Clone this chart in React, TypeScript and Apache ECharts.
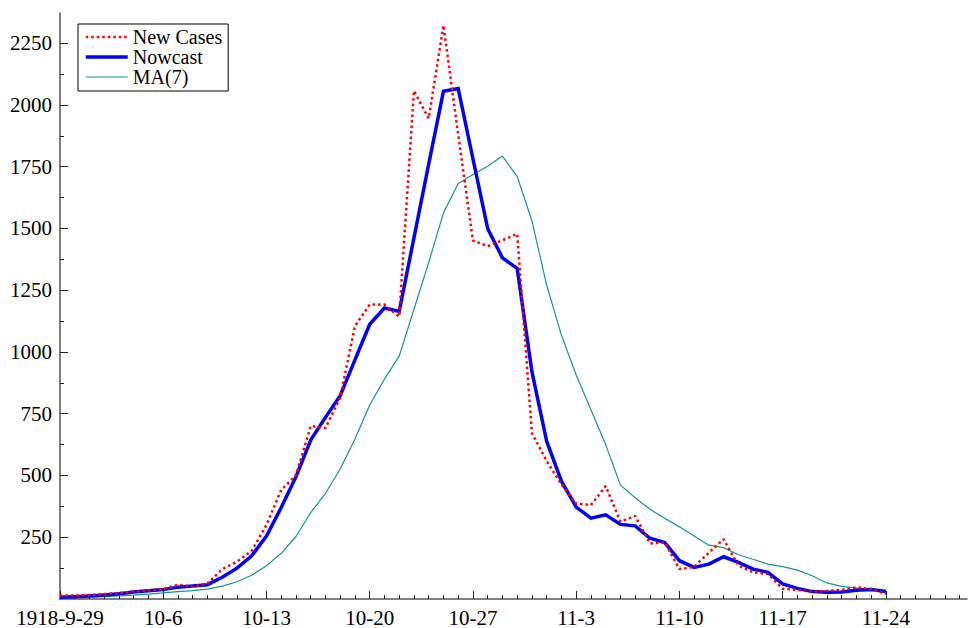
import React, { useEffect, useRef } from "react";
import * as echarts from "echarts";

const xTickDays = [0, 7, 14, 21, 28, 35, 42, 49, 56];
const xTickLabels = ["1918-9-29", "10-6", "10-13", "10-20", "10-27", "11-3", "11-10", "11-17", "11-24"];
const xMinorDays = Array.from({ length: 62 }, (_, i) => i).filter((d) => d % 7 !== 0);
const yTickValues = [250, 500, 750, 1000, 1250, 1500, 1750, 2000, 2250];
const yMinorValues = [125, 375, 625, 875, 1125, 1375, 1625, 1875, 2125];

const newCases = [
  14, 14, 16, 20, 24, 31, 35, 40, 58, 50, 63, 121, 151, 195, 300, 442, 500, 700, 692, 815,
  1105, 1192, 1192, 1143, 2057, 1945, 2322, 1880, 1451, 1428, 1452, 1478, 672, 558, 464, 386,
  380, 457, 313, 336, 225, 229, 121, 130, 188, 242, 135, 108, 101, 41, 37, 30, 33, 37, 47, 41, 20,
];
const nowcast = [
  7, 9, 12, 16, 21, 28, 33, 38, 48, 53, 58, 88, 125, 175, 255, 370, 495, 643, 735, 823,
  968, 1112, 1178, 1164, 1462, 1760, 2055, 2066, 1782, 1499, 1381, 1338, 920, 638, 477, 372,
  327, 341, 302, 296, 246, 229, 155, 128, 141, 171, 148, 121, 108, 61, 43, 30, 27, 28, 35, 38, 30,
];
const ma7 = [
  5, 6, 8, 10, 13, 16, 20, 25, 30, 34, 40, 52, 70, 96, 135, 185, 253, 350, 428, 526,
  648, 785, 890, 983, 1173, 1362, 1563, 1682, 1718, 1752, 1793, 1710, 1531, 1270, 1068, 907,
  766, 625, 461, 410, 363, 327, 292, 255, 218, 208, 179, 161, 141, 131, 117, 94, 65, 51, 44, 41, 34,
];

const FONT = "'Liberation Serif', 'Times New Roman', serif";
const AXIS_COLOR = "#555555";

export default function App() {
  const ref = useRef<HTMLDivElement>(null);
  useEffect(() => {
    const chart = echarts.init(ref.current!, null, { renderer: "svg" });
    const toPairs = (arr: number[]) => arr.map((v, i) => [i, v]);
    chart.setOption({
      animation: false,
      backgroundColor: "#ffffff",
      grid: { left: 60, right: 1, top: 13, bottom: 27 },
      legend: {
        orient: "vertical",
        left: 78,
        top: 24,
        itemWidth: 42,
        itemHeight: 14,
        itemGap: 0,
        padding: [3, 6, 4, 6],
        borderColor: "#000000",
        borderWidth: 1,
        backgroundColor: "#ffffff",
        textStyle: { fontFamily: FONT, fontSize: 20, color: "#000000", lineHeight: 20 },
        itemStyle: { opacity: 0 },
        lineStyle: { width: "inherit", type: "inherit", opacity: 1 },
        data: ["New Cases", "Nowcast", "MA(7)"],
      },
      xAxis: [
        {
          type: "value",
          min: 0,
          max: 61.5,
          axisLine: { show: true, onZero: false, lineStyle: { color: AXIS_COLOR, width: 1.5 } },
          axisTick: { show: true, inside: true, length: 8, customValues: xTickDays, lineStyle: { color: "#222", width: 1 } },
          axisLabel: {
            customValues: xTickDays,
            fontFamily: FONT,
            fontSize: 21,
            color: "#000",
            margin: 8,
            formatter: (v: number) => {
              const i = xTickDays.indexOf(Math.round(v));
              return i >= 0 ? xTickLabels[i] : "";
            },
          },
          splitLine: { show: false },
        },
        {
          type: "value",
          min: 0,
          max: 61.5,
          position: "bottom",
          axisLine: { show: false, onZero: false },
          axisTick: { show: true, inside: true, length: 4, customValues: xMinorDays, lineStyle: { color: "#222", width: 1 } },
          axisLabel: { show: false },
          splitLine: { show: false },
        },
      ],
      yAxis: [
        {
          type: "value",
          min: 0,
          max: 2372,
          axisLine: { show: true, onZero: false, lineStyle: { color: AXIS_COLOR, width: 1.5 } },
          axisTick: { show: true, inside: true, length: 8, customValues: yTickValues, lineStyle: { color: "#222", width: 1 } },
          axisLabel: {
            customValues: yTickValues,
            fontFamily: FONT,
            fontSize: 21,
            color: "#000",
            margin: 8,
            formatter: (v: number) => String(Math.round(v)),
          },
          splitLine: { show: false },
        },
        {
          type: "value",
          min: 0,
          max: 2372,
          position: "left",
          axisLine: { show: false, onZero: false },
          axisTick: { show: true, inside: true, length: 4, customValues: yMinorValues, lineStyle: { color: "#222", width: 1 } },
          axisLabel: { show: false },
          splitLine: { show: false },
        },
      ],
      series: [
        {
          name: "MA(7)",
          type: "line",
          data: toPairs(ma7),
          symbol: "none",
          z: 1,
          lineStyle: { color: "#139696", width: 1.2 },
          itemStyle: { color: "#139696" },
        },
        {
          name: "New Cases",
          type: "line",
          data: toPairs(newCases),
          symbol: "none",
          z: 3,
          lineStyle: { color: "#ff0000", width: 2.5, type: [2.5, 3] },
          itemStyle: { color: "#ff0000" },
        },
        {
          name: "Nowcast",
          type: "line",
          data: toPairs(nowcast),
          symbol: "none",
          z: 2,
          lineStyle: { color: "#0000ff", width: 3.5, join: "miter" },
          itemStyle: { color: "#0000ff" },
        },
      ],
    });
    return () => chart.dispose();
  }, []);
  return <div ref={ref} style={{ position: "absolute", left: 0, top: 0, width: 968, height: 628 }} />;
}
